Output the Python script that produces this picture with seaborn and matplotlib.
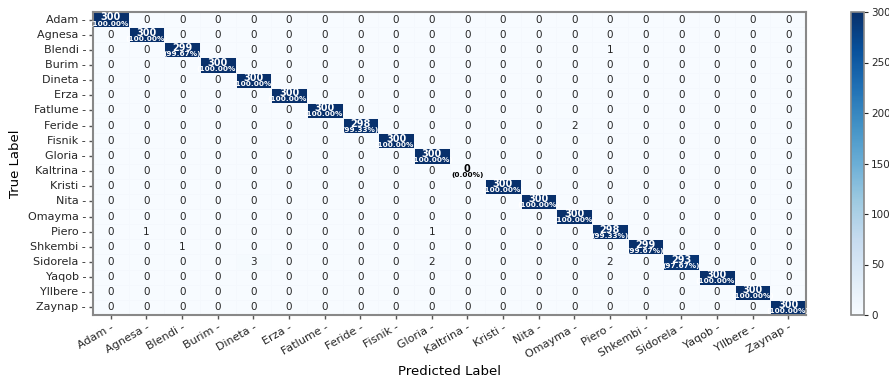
import numpy as np
import pandas as pd
import matplotlib
matplotlib.use("Agg")
import matplotlib.pyplot as plt
import seaborn as sns

labels = ["Adam", "Agnesa", "Blendi", "Burim", "Dineta", "Erza", "Fatlume",
          "Feride", "Fisnik", "Gloria", "Kaltrina", "Kristi", "Nita", "Omayma",
          "Piero", "Shkembi", "Sidorela", "Yaqob", "Yllbere", "Zaynap"]
correct = [300, 300, 299, 300, 300, 300, 300, 298, 300, 300,
           0, 300, 300, 300, 298, 299, 293, 300, 300, 300]
err_true = ["Blendi", "Feride", "Piero", "Piero", "Shkembi", "Sidorela", "Sidorela", "Sidorela"]
err_pred = ["Piero", "Omayma", "Agnesa", "Gloria", "Blendi", "Dineta", "Gloria", "Piero"]
err_count = [1, 2, 1, 1, 1, 3, 2, 2]
samples_per_class = 300

cm = pd.DataFrame(np.diag(correct), index=labels, columns=labels)
for t, p, c in zip(err_true, err_pred, err_count):
    cm.loc[t, p] = c

fig = plt.figure(figsize=(8.89, 3.78), dpi=100)
ax = fig.add_axes([93 / 889, 1 - 315 / 378, 713 / 889, 303 / 378])
cax = fig.add_axes([851 / 889, 1 - 315 / 378, 13 / 889, 303 / 378])

sns.heatmap(cm, cmap="Blues", vmin=0, vmax=300, annot=False, linewidths=0.5,
            linecolor="#f4f8fd", ax=ax, cbar_ax=cax)

# annotations
n = len(labels)
for i in range(n):
    for j in range(n):
        val = cm.iloc[i, j]
        if i == j:
            col = "white" if val > 150 else "black"
            pct = val / samples_per_class * 100
            ax.text(j + 0.5, i + 0.36, f"{val}", ha="center", va="center",
                    fontsize=7, fontweight="bold", color=col)
            ax.text(j + 0.5, i + 0.76, f"({pct:.2f}%)", ha="center", va="center",
                    fontsize=5.3, fontweight="bold", color=col)
        else:
            ax.text(j + 0.5, i + 0.5, f"{val}", ha="center", va="center",
                    fontsize=7.5, color="#262626")

for s in ax.spines.values():
    s.set_visible(True)
    s.set_color("#888888")
    s.set_linewidth(1.5)
cbar = ax.collections[0].colorbar
cbar.outline.set_edgecolor("#888888")
cbar.outline.set_linewidth(1.2)

ax.set_xticks(np.arange(n) + 0.5)
ax.set_yticks(np.arange(n) + 0.5)
ax.set_xticklabels([f"{l} -" for l in labels], rotation=30, ha="right",
                   rotation_mode="anchor", fontsize=8, color="#262626")
ax.set_yticklabels([f"{l} -" for l in labels], rotation=0, fontsize=8, color="#262626")
ax.tick_params(axis="both", length=3, width=1, color="#555555", pad=2)
cax.tick_params(labelsize=7.5, length=3, colors="#262626", pad=2)
cbar.set_ticks([0, 50, 100, 150, 200, 250, 300])

ax.set_xlabel("Predicted Label", fontsize=9.5, labelpad=4)
ax.set_ylabel("True Label", fontsize=9.5, labelpad=4)

fig.savefig("out.png", dpi=100)
